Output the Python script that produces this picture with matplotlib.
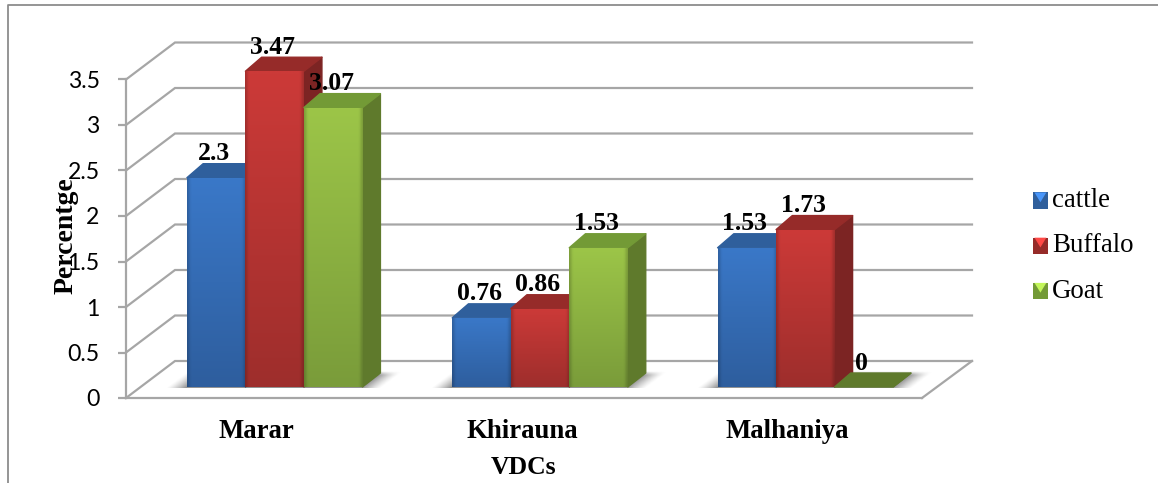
import numpy as np
import matplotlib
matplotlib.use("Agg")
import matplotlib.pyplot as plt
from matplotlib.patches import Polygon, Rectangle
from matplotlib.lines import Line2D
from matplotlib.legend_handler import HandlerBase
from matplotlib.colors import to_rgb
from matplotlib.transforms import ScaledTranslation

categories = ["Marar", "Khirauna", "Malhaniya"]
series_names = ["cattle", "Buffalo", "Goat"]
cattle = [2.3, 0.76, 1.53]
buffalo = [3.47, 0.86, 1.73]
goat = [3.07, 1.53, 0]
series_values = [cattle, buffalo, goat]
y_ticks = [0, 0.5, 1, 1.5, 2, 2.5, 3, 3.5]
y_tick_labels = ["0", "0.5", "1", "1.5", "2", "2.5", "3", "3.5"]

front_cols = {"cattle": "#3A78C8", "Buffalo": "#CC3A38", "Goat": "#9CC548"}
top_cols = {"cattle": "#2F5F9C", "Buffalo": "#962B29", "Goat": "#739A36"}
side_cols = {"cattle": "#254B7C", "Buffalo": "#7C2423", "Goat": "#5F7A2C"}
bottom_cols = {"cattle": "#2E5E9E", "Buffalo": "#9E2E2C", "Goat": "#7A9C3A"}

W, H = 1158, 483
fig = plt.figure(figsize=(W / 100, H / 100), dpi=100)
fx0, fx1, fy0, fy1 = 126, 922, 398, 79.5   # front plane, pixels
ax = fig.add_axes([fx0 / W, 1 - fy0 / H, (fx1 - fx0) / W, (fy0 - fy1) / H])
ax.set_xlim(-0.5, 2.5)
ax.set_ylim(0, 3.5)
ppx = (fx1 - fx0) / 3      # px per category
ppy = (fy0 - fy1) / 3.5    # px per unit
ux = lambda p: p / ppx
uy = lambda p: p / ppy

grey = "#A6A6A6"
wall_dx, wall_dy = ux(49), uy(37)
xl, xr = -0.5, 2.5
for t in y_ticks:
    ax.plot([xl, xl + wall_dx, xr + ux(50)], [t, t + wall_dy, t + wall_dy],
            color=grey, lw=1.6, clip_on=False, zorder=1, solid_joinstyle="miter")
ax.plot([xr, xr + ux(50)], [0, wall_dy], color=grey, lw=1.6, clip_on=False, zorder=1)

# soft floor shadows
bar_w = ux(58.5)
shift = ux(16)
base = uy(11)
dx, dy = ux(18), uy(14)
def shadow(x0, x1):
    xs = np.linspace(x0 - ux(22), x1 + dx + ux(40), 300)
    ys = np.linspace(base - uy(1), base + dy + uy(2), 30)
    X, Y = np.meshgrid(xs, ys)
    sh = (Y - base) / dy * dx
    d = np.maximum(np.maximum(x0 - (X - sh), (X - sh) - x1), 0) / ux(20)
    a = np.clip(1 - d, 0, 1) ** 1.3 * 0.65
    a *= np.clip((ys[-1] - Y) / uy(4), 0, 1)
    img = np.zeros(X.shape + (4,))
    img[..., :3] = 0.35
    img[..., 3] = a
    ax.imshow(img, extent=[xs[0], xs[-1], ys[0], ys[-1]], origin="lower",
              aspect="auto", zorder=2, clip_on=False, interpolation="bilinear")

for i in range(len(categories)):
    shadow(i + shift - 1.5 * bar_w, i + shift + 1.5 * bar_w)

# bars
for j, name in enumerate(series_names):
    vals = series_values[j]
    xs = [i + shift + (j - 1) * bar_w for i in range(len(categories))]
    bars = ax.bar(xs, vals, width=bar_w, bottom=base, color=front_cols[name],
                  linewidth=0, zorder=4 + j, clip_on=False)
    for x, v, b in zip(xs, vals, bars):
        l, r = x - bar_w / 2, x + bar_w / 2
        t = base + v
        ax.add_patch(Polygon([(r, base), (r + dx, base + dy), (r + dx, t + dy), (r, t)],
                             closed=True, fc=side_cols[name], ec=side_cols[name], lw=1.0,
                             joinstyle="round", zorder=3 + j, clip_on=False))
        c_top = top_cols[name] if v > 0 else side_cols[name]
        ax.add_patch(Polygon([(l, t), (l + dx * 0.9, t + dy), (r + dx, t + dy), (r, t)],
                             closed=True, fc=c_top, ec=c_top, lw=1.0,
                             joinstyle="round", zorder=3 + j, clip_on=False))
        if v > 0:
            top_c = np.array(to_rgb(front_cols[name]))
            bot_c = np.array(to_rgb(bottom_cols[name]))
            n = 60
            fy = np.linspace(0, 1, n)[:, None]          # 0 bottom, 1 top
            fx = np.linspace(0, 1, 40)[None, :]
            edge = 1 - 0.18 * np.clip(1 - np.minimum(fx, 1 - fx) / 0.06, 0, 1)
            img = (bot_c[None, None, :] * (1 - fy[..., None]) + top_c[None, None, :] * fy[..., None]) * edge[..., None]
            im = ax.imshow(np.clip(img, 0, 1), extent=[l, r, base, t], origin="lower",
                           aspect="auto", zorder=4 + j, interpolation="bilinear")
            im.set_clip_path(b)
        ax.annotate(f"{v:g}", xy=(x, t), xytext=(-1.5, 12.6), textcoords="offset points",
                    ha="center", va="baseline", family="Liberation Serif",
                    fontweight="bold", fontsize=18.5, color="black", zorder=20,
                    annotation_clip=False)

ax.set_xlim(-0.5, 2.5)
ax.set_ylim(0, 3.5)

for s in ["top", "right"]:
    ax.spines[s].set_visible(False)
for s in ["left", "bottom"]:
    ax.spines[s].set_color(grey)
    ax.spines[s].set_linewidth(1.6)
ax.patch.set_visible(False)
ax.set_yticks(y_ticks, y_tick_labels, family="Lato", fontsize=16.6)
ax.tick_params(axis="y", length=6, width=1.6, color=grey, pad=13)
ax.set_xticks(range(len(categories)), categories, family="Liberation Serif",
              fontweight="bold", fontsize=19.3)
ax.tick_params(axis="x", length=0, pad=15)
for lab in ax.get_xticklabels():
    lab.set_transform(lab.get_transform() + ScaledTranslation(-2 / 100, 0, fig.dpi_scale_trans))
ax.set_xlabel("VDCs", family="Liberation Serif", fontweight="bold", fontsize=18.5, labelpad=9)
ax.set_ylabel("Percentge", family="Liberation Serif", fontweight="bold", fontsize=20, labelpad=0)
ax.yaxis.set_label_coords((79 - fx0) / (fx1 - fx0), (fy0 - 236) / (fy0 - fy1))

# legend
class BevelHandler(HandlerBase):
    def create_artists(self, legend, orig, xd, yd, w, h, fs, trans):
        name = orig.get_label()
        c = np.array(to_rgb(front_cols[name]))
        rect = Rectangle((xd, yd), w, h, fc=top_cols[name], ec="none", transform=trans)
        tri = Polygon([(xd + w * .1, yd + h), (xd + w * .9, yd + h), (xd + w / 2, yd + h * .4)],
                      closed=True, fc=np.clip(c * 1.25, 0, 1), ec="none", transform=trans)
        return [rect, tri]

handles = [Rectangle((0, 0), 1, 1, label=n) for n in series_names]
leg = ax.legend(handles=handles, labels=series_names, loc="center left",
                bbox_to_anchor=(1033 / W, 1 - 246 / H), bbox_transform=fig.transFigure,
                frameon=False, prop={"family": "Liberation Serif", "size": 19.4},
                handler_map={Rectangle: BevelHandler()}, handlelength=0.55, handleheight=0.55,
                handletextpad=0.16, labelspacing=0.75, borderpad=0, borderaxespad=0)

# outer frame
fig.add_artist(Line2D([8 / W, 8 / W, 1], [0, 1 - 5 / H, 1 - 5 / H], color="#8C8C8C", lw=1.3,
                      transform=fig.transFigure))

fig.savefig("out.png", dpi=100)
